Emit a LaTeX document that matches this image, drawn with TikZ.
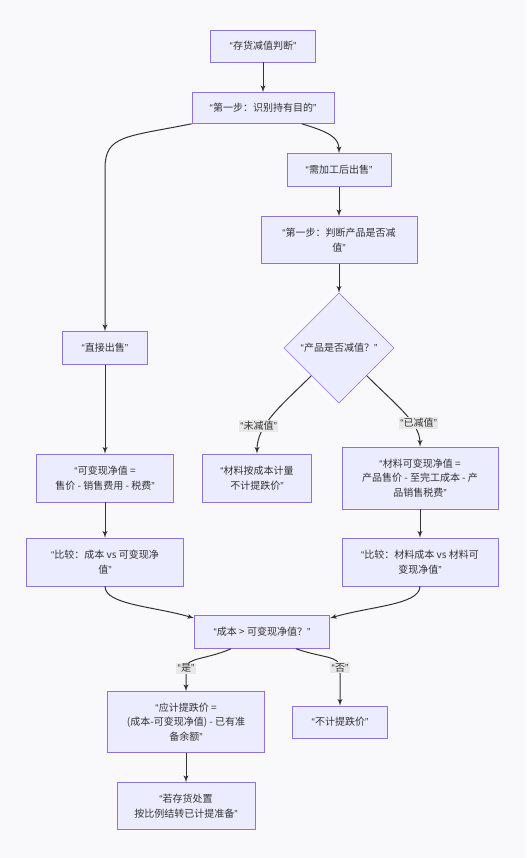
\documentclass[tikz,border=0pt]{standalone}
\usepackage{fontspec}
\setmainfont{Noto Sans CJK SC}
\newfontfamily\quotefont{Liberation Sans}
\usepackage{tikz}
\usetikzlibrary{shapes,arrows,positioning,calc}
\definecolor{boxfill}{HTML}{ECECFF}
\definecolor{boxline}{HTML}{9370DB}
\definecolor{edgeline}{HTML}{333333}
\definecolor{labelfill}{HTML}{E8E8E8}
\definecolor{pagebg}{HTML}{F9F9FB}
\newcommand{\oq}{{\quotefont “}}
\newcommand{\cq}{{\quotefont ”}}

\begin{document}
\begin{tikzpicture}[node distance=46.5pt, font=\fontsize{7.5}{10.9}\selectfont]
\tikzstyle{block} = [rectangle, draw=boxline, fill=boxfill, text=edgeline, align=center, inner sep=0pt]
\tikzstyle{decision} = [diamond, draw=boxline, fill=boxfill, text=edgeline, align=center, inner sep=0pt, minimum width=82.5pt, minimum height=82.5pt]
\tikzstyle{line} = [draw=edgeline, line width=0.75pt, -latex']
\tikzstyle{elabel} = [fill=labelfill, text=edgeline, inner sep=1pt]

\fill [pagebg] (0,0) rectangle (394.5pt,-643.5pt);

\node [block, minimum width=78.75pt, minimum height=24pt] (judge) at (197.25pt,-34.5pt) {\oq 存货减值判断\cq};
\node [block, below of=judge, minimum width=106.5pt, minimum height=23.25pt] (purpose) {\oq 第一步：识别持有目的\cq};
\node [block, below of=purpose, xshift=57pt, minimum width=78pt, minimum height=24.75pt] (process) {\oq 需加工后出售\cq};
\node [block, below of=process, node distance=52.5pt, minimum width=117pt, minimum height=35.25pt] (step1b) {\oq 第一步：判断产品是否减\\值\cq};
\node [decision, below of=step1b, node distance=81pt] (diamond) {\oq 产品是否减值？\cq};
\node [block, left of=diamond, node distance=175.5pt, minimum width=63.75pt, minimum height=24.75pt] (direct) {\oq 直接出售\cq};
\node [block, below of=direct, node distance=97.5pt, minimum width=102.75pt, minimum height=36pt] (nrv) {\oq 可变现净值 =\\售价 - 销售费用 - 税费\cq};
\node [block, below of=nrv, node distance=63pt, minimum width=117.75pt, minimum height=36pt] (compare) {\oq 比较：成本 vs 可变现净\\值\cq};
\node [block, right of=nrv, node distance=114pt, minimum width=81.75pt, minimum height=36pt] (nodrop) {\oq 材料按成本计量\\不计提跌价\cq};
\node [block, right of=nodrop, node distance=122.25pt, minimum width=117pt, minimum height=46.5pt] (mnrv) {\oq 材料可变现净值 =\\产品售价 - 至完工成本 - 产\\品销售税费\cq};
\node [block, below of=mnrv, node distance=63pt, minimum width=117pt, minimum height=36pt] (mcompare) {\oq 比较：材料成本 vs 材料可\\变现净值\cq};
\node [block, below of=compare, node distance=52.5pt, xshift=117.75pt, minimum width=101.25pt, minimum height=24.75pt] (cmp) {\oq 成本 > 可变现净值？\cq};
\node [block, below of=cmp, node distance=67.5pt, xshift=-57pt, minimum width=117.75pt, minimum height=45.75pt] (provision) {\oq 应计提跌价 =\\(成本-可变现净值) - 已有准\\备余额\cq};
\node [block, right of=provision, node distance=115.5pt, minimum width=71.25pt, minimum height=24pt] (noprov) {\oq 不计提跌价\cq};
\node [block, below of=provision, node distance=63pt, minimum width=103.5pt, minimum height=35.25pt] (dispose) {\oq 若存货处置\\按比例结转已计提准备\cq};

\path [line] (judge) -- (purpose);
\path [line] (purpose.south west) .. controls +(-50pt,-10pt) and +(0,25pt) .. ([yshift=122pt]direct.north) -- (direct);
\path [line] ([xshift=29pt]purpose.south) .. controls +(20pt,-6pt) and +(0,12pt) .. (process.north);
\path [line] (process) -- (step1b);
\path [line] (step1b) -- (diamond);
\path [line] (diamond.south west) .. controls +(-22pt,-22pt) and +(0,22pt) .. node [elabel, pos=0.65, xshift=-5pt] {\oq 未减值\cq} (nodrop.north);
\path [line] (diamond.south east) .. controls +(22pt,-22pt) and +(0,18pt) .. node [elabel, pos=0.65, xshift=5pt] {\oq 已减值\cq} (mnrv.north);
\path [line] (direct) -- (nrv);
\path [line] (nrv) -- (compare);
\path [line] (mnrv) -- (mcompare);
\path [line] (compare.south) .. controls +(0,-14pt) and +(-30pt,9pt) .. ([yshift=-2.25pt]cmp.north west);
\path [line] (mcompare.south) .. controls +(0,-14pt) and +(30pt,9pt) .. ([yshift=-2.25pt]cmp.north east);
\path [line] ([xshift=-23.25pt]cmp.south) .. controls +(-18pt,-8pt) and +(0,8pt) .. ([yshift=17.25pt]provision.north) node [elabel] {\oq 是\cq} -- (provision);
\path [line] ([xshift=25.5pt]cmp.south) .. controls +(20pt,-7pt) and +(0,9pt) .. ([yshift=28.5pt]noprov.north) node [elabel] {\oq 否\cq} -- (noprov);
\path [line] (provision) -- (dispose);
\end{tikzpicture}
\end{document}
